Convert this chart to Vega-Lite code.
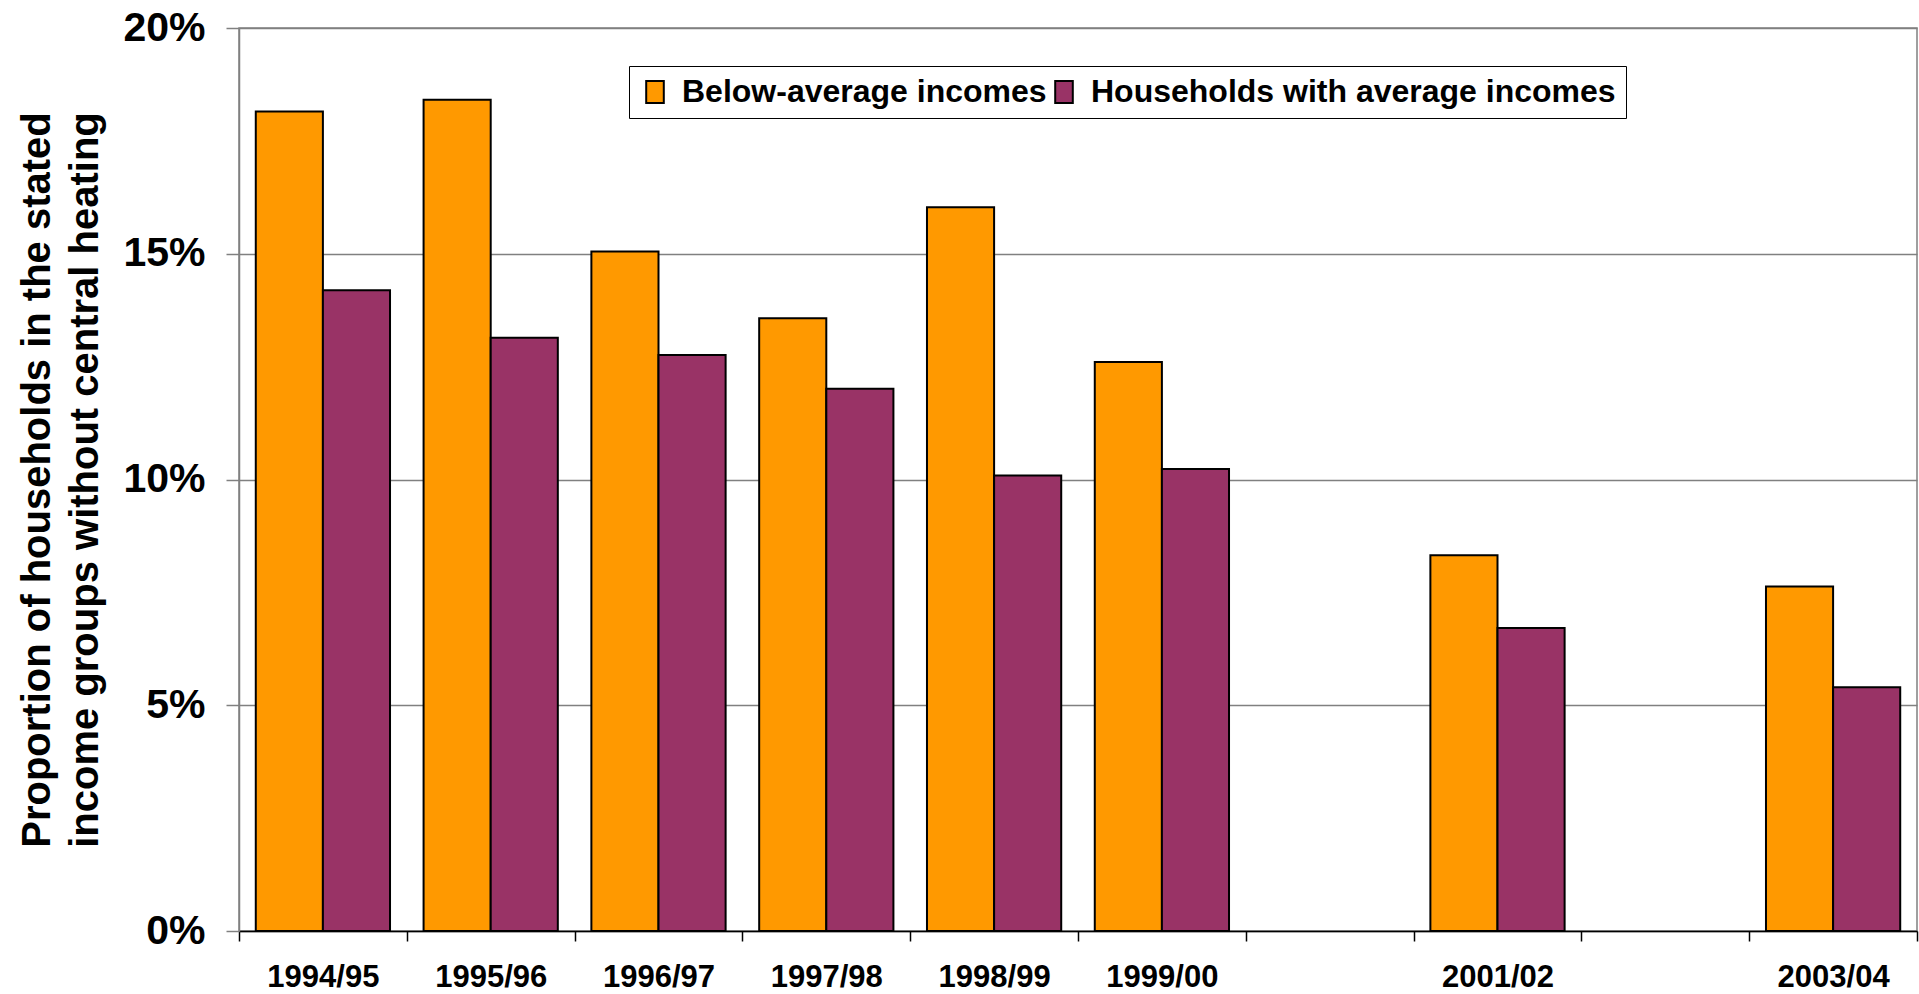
{
  "$schema": "https://vega.github.io/schema/vega-lite/v6.json",
  "autosize": {"type": "none"},
  "width": 1678,
  "height": 903,
  "padding": {"left": 239, "top": 28, "right": 2, "bottom": 63},
  "background": "white",
  "config": {
    "font": "Liberation Sans",
    "view": {"stroke": "#808080", "strokeWidth": 1.5}
  },
  "data": {
    "values": [
      {"year": "1994/95", "series": "Below-average incomes", "value": 0.1815},
      {"year": "1994/95", "series": "Households with average incomes", "value": 0.1419},
      {"year": "1995/96", "series": "Below-average incomes", "value": 0.1841},
      {"year": "1995/96", "series": "Households with average incomes", "value": 0.1314},
      {"year": "1996/97", "series": "Below-average incomes", "value": 0.1505},
      {"year": "1996/97", "series": "Households with average incomes", "value": 0.1276},
      {"year": "1997/98", "series": "Below-average incomes", "value": 0.1357},
      {"year": "1997/98", "series": "Households with average incomes", "value": 0.1201},
      {"year": "1998/99", "series": "Below-average incomes", "value": 0.1603},
      {"year": "1998/99", "series": "Households with average incomes", "value": 0.1009},
      {"year": "1999/00", "series": "Below-average incomes", "value": 0.1260},
      {"year": "1999/00", "series": "Households with average incomes", "value": 0.1023},
      {"year": "2001/02", "series": "Below-average incomes", "value": 0.0832},
      {"year": "2001/02", "series": "Households with average incomes", "value": 0.0671},
      {"year": "2003/04", "series": "Below-average incomes", "value": 0.0763},
      {"year": "2003/04", "series": "Households with average incomes", "value": 0.0540}
    ]
  },
  "mark": {"type": "bar", "stroke": "black", "strokeWidth": 2},
  "encoding": {
    "x": {
      "field": "year",
      "type": "nominal",
      "scale": {
        "domain": ["1994/95", "1995/96", "1996/97", "1997/98", "1998/99", "1999/00", "2000/01", "2001/02", "2002/03", "2003/04"],
        "paddingInner": 0,
        "paddingOuter": 0
      },
      "axis": {
        "title": null,
        "labelAngle": 0,
        "labelExpr": "datum.label == '2000/01' || datum.label == '2002/03' ? '' : datum.label",
        "labelFontSize": 31,
        "labelFontWeight": "bold",
        "labelColor": "black",
        "labelPadding": 21,
        "domainColor": "black",
        "domainWidth": 1.5,
        "tickColor": "black",
        "tickWidth": 1.5,
        "tickSize": 10,
        "tickBand": "extent",
        "grid": false
      }
    },
    "xOffset": {
      "field": "series",
      "type": "nominal",
      "sort": ["Below-average incomes", "Households with average incomes"],
      "scale": {"paddingInner": 0, "paddingOuter": 0.25}
    },
    "y": {
      "field": "value",
      "type": "quantitative",
      "scale": {"domain": [0, 0.2], "nice": false},
      "axis": {
        "title": ["Proportion of households in the stated", "income groups without central heating"],
        "titleFontSize": 40,
        "titleFontWeight": "bold",
        "titleColor": "black",
        "titleLineHeight": 48,
        "titleAngle": -90,
        "titleAlign": "center",
        "titleBaseline": "middle",
        "titleX": -202,
        "titleY": 451.5,
        "values": [0, 0.05, 0.1, 0.15, 0.2],
        "format": ".0%",
        "labelFontSize": 41,
        "labelFontWeight": "bold",
        "labelColor": "black",
        "labelPadding": 21,
        "domainColor": "#808080",
        "domainWidth": 1.5,
        "tickColor": "#808080",
        "tickWidth": 1.5,
        "tickSize": 13,
        "grid": true,
        "gridColor": "#808080",
        "gridWidth": 1.5
      }
    },
    "color": {
      "field": "series",
      "type": "nominal",
      "scale": {
        "domain": ["Below-average incomes", "Households with average incomes"],
        "range": ["#FF9900", "#993366"]
      },
      "legend": {
        "title": null,
        "orient": "none",
        "direction": "horizontal",
        "legendX": 390,
        "legendY": 38,
        "labelFontSize": 32,
        "labelFontWeight": "bold",
        "labelColor": "black",
        "labelLimit": 800,
        "symbolType": "M-0.8,-1H0.8V1H-0.8Z",
        "symbolSize": 484,
        "symbolStrokeColor": "black",
        "symbolStrokeWidth": 2,
        "symbolOpacity": 1,
        "labelOffset": 11,
        "columnPadding": 1,
        "padding": 10,
        "strokeColor": "black",
        "fillColor": "white"
      }
    }
  }
}
